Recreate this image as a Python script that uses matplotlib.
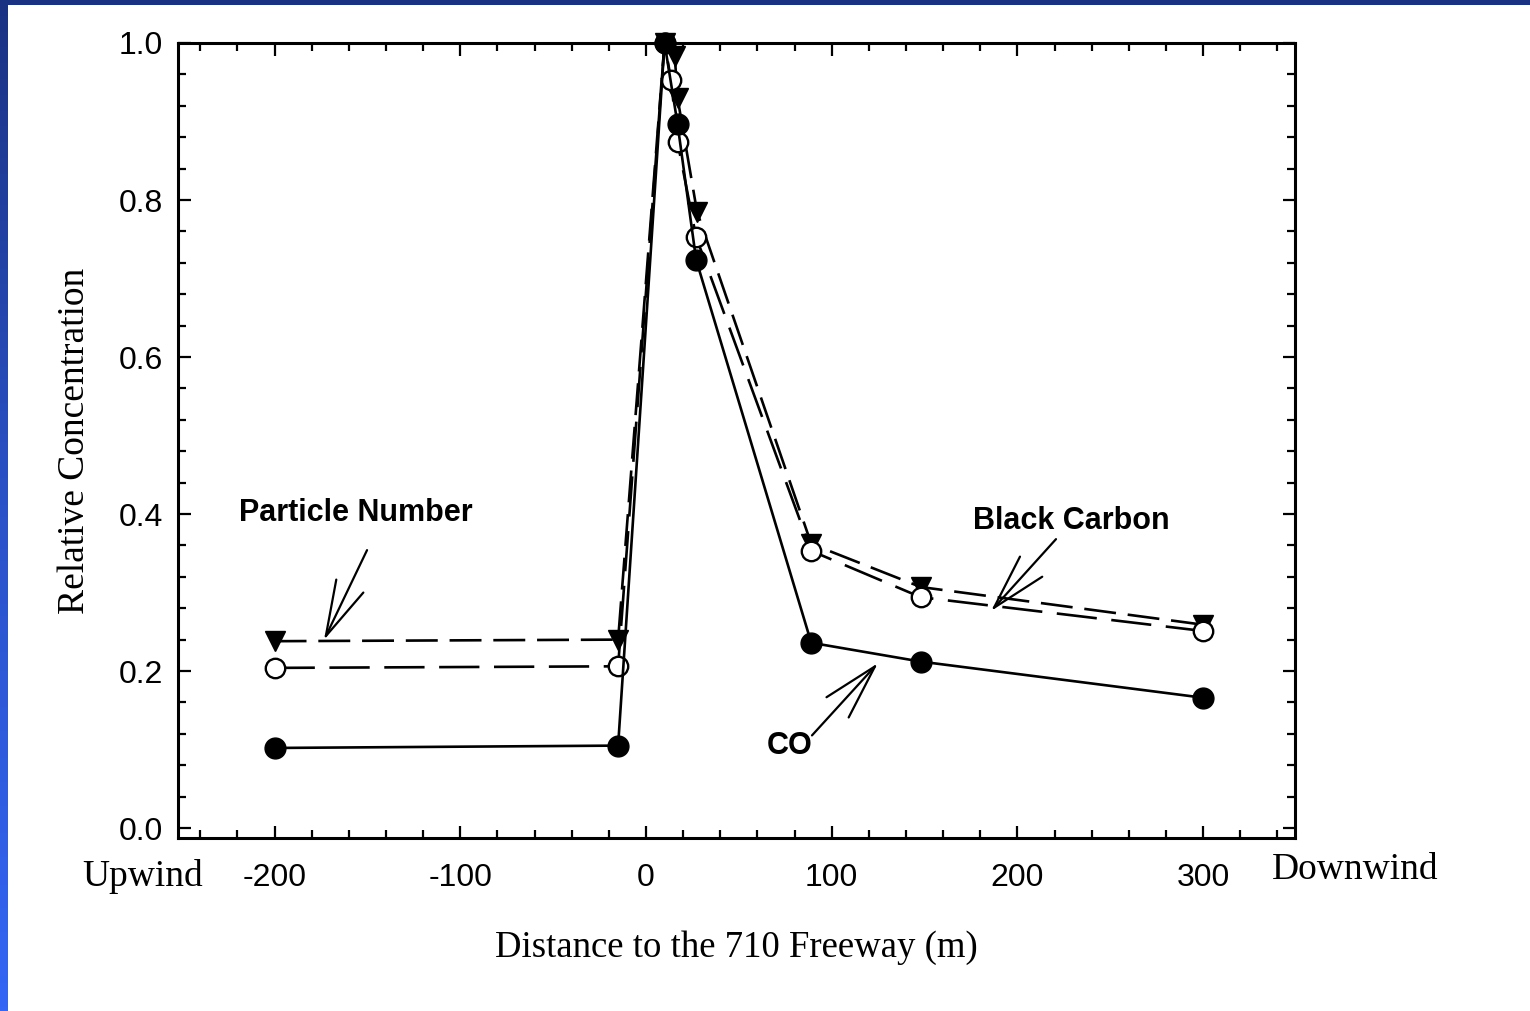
import numpy as np
import matplotlib
matplotlib.use("Agg")
import matplotlib.pyplot as plt
from matplotlib.ticker import MultipleLocator
from matplotlib.colors import LinearSegmentedColormap

plt.rcParams["lines.scale_dashes"] = False

# Distance to the freeway (m) and relative concentrations
co_x = [-200, -15, 10, 17, 27, 89, 148, 300]
co_y = [0.102, 0.105, 1.0, 0.897, 0.724, 0.236, 0.212, 0.166]

bc_x = [-200, -15, 10, 15.5, 17, 27.5, 89, 148, 300]
bc_y = [0.238, 0.240, 1.0, 0.984, 0.930, 0.785, 0.362, 0.307, 0.259]

pn_x = [-200, -15, 10, 13.5, 17, 27, 89, 148, 300]
pn_y = [0.204, 0.206, 1.0, 0.953, 0.874, 0.753, 0.353, 0.294, 0.251]

x_ticks = [-200, -100, 0, 100, 200, 300]
y_ticks = [0.0, 0.2, 0.4, 0.6, 0.8, 1.0]

W, H = 1530, 1011
fig = plt.figure(figsize=(W / 100, H / 100), dpi=100, facecolor="white")

# Slide frame: navy bar on top, blue gradient strip on the left
frame = fig.add_axes([0, 0, 1, 1], zorder=-10)
frame.set_axis_off()
frame.set_xlim(0, W)
frame.set_ylim(H, 0)
cmap = LinearSegmentedColormap.from_list("edge", ["#1a3282", "#2a52c8", "#3366f5"])
grad = np.linspace(0, 1, 256).reshape(-1, 1)
frame.imshow(grad, cmap=cmap, extent=[0, 8, H, 0], aspect="auto")
frame.add_patch(plt.Rectangle((0, 0), W, 5, color="#1a3282", lw=0))

ax = fig.add_axes([178 / W, 1 - 838 / H, (1295 - 178) / W, (838 - 43) / H])
ax.set_xlim(-252, 349.5)
ax.set_ylim(-0.0127, 1.0)

lw = 1.9
ax.plot(bc_x, bc_y, color="black", lw=lw, dashes=(23, 8.5), marker="v", ms=14.5,
        mfc="black", mec="black", clip_on=False, zorder=3)
ax.plot(pn_x, pn_y, color="black", lw=lw, dashes=(29, 10.5), marker="o", ms=14,
        mfc="white", mec="black", mew=1.7, clip_on=False, zorder=4)
ax.plot(co_x, co_y, color="black", lw=lw, marker="o", ms=15,
        mfc="black", mec="black", clip_on=False, zorder=5)

# Axes styling
for s in ax.spines.values():
    s.set_linewidth(2.2)
ax.set_xticks(x_ticks)
ax.set_xticklabels([str(v) for v in x_ticks])
ax.set_yticks(y_ticks)
ax.set_yticklabels([f"{v:.1f}" for v in y_ticks])
ax.xaxis.set_minor_locator(MultipleLocator(20))
ax.yaxis.set_minor_locator(MultipleLocator(0.04))
ax.tick_params(which="both", direction="in", top=True, right=True, width=1.6)
ax.tick_params(which="major", length=9)
ax.tick_params(which="minor", length=5.5)
ax.tick_params(axis="x", which="major", pad=18)
ax.tick_params(axis="y", which="major", pad=11)
for lab in ax.get_xticklabels() + ax.get_yticklabels():
    lab.set_fontfamily("Liberation Sans")
    lab.set_fontsize(23)

serif = "Liberation Serif"
ax.set_xlabel("Distance to the 710 Freeway (m)", fontfamily=serif, fontsize=26.5, labelpad=27)
ax.set_ylabel("Relative Concentration", fontfamily=serif, fontsize=27, labelpad=19)
fig.text(143 / W, 1 - 877 / H, "Upwind", fontfamily=serif, fontsize=27,
         ha="center", va="center")
fig.text(1355 / W, 1 - 870 / H, "Downwind", fontfamily=serif, fontsize=27,
         ha="center", va="center")

# Series labels with pointer arrows
label_kw = dict(fontfamily="Liberation Sans", fontweight="bold", fontsize=22,
                ha="center", va="center")
ax.text(-156, 0.401, "Particle Number", **label_kw)
ax.text(229, 0.391, "Black Carbon", **label_kw)
ax.text(77.5, 0.104, "CO", **label_kw)

arrow_kw = dict(arrowstyle="->,head_length=1.0,head_width=0.27", lw=1.6,
                color="black", shrinkA=0, shrinkB=0, mutation_scale=40)
ax.annotate("", xy=(-173.4, 0.2395), xytext=(-150.2, 0.354), arrowprops=arrow_kw)
ax.annotate("", xy=(185.8, 0.2764), xytext=(220.8, 0.368), arrowprops=arrow_kw)
ax.annotate("", xy=(124.9, 0.210), xytext=(89.4, 0.118), arrowprops=arrow_kw)

fig.savefig("out.png", dpi=100, facecolor="white")
